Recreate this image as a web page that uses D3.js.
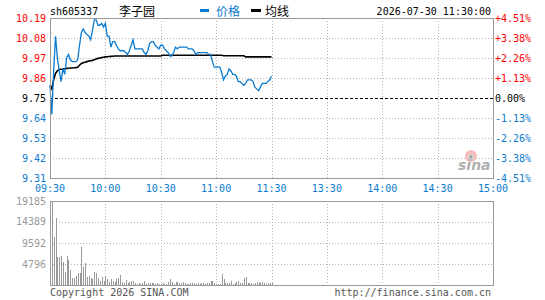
<!DOCTYPE html>
<html>
<head>
<meta charset="utf-8">
<script src="https://cdn.jsdelivr.net/npm/d3@7"></script>
<style>
  html, body { margin: 0; padding: 0; background: #fff; }
  svg { display: block; }
  text { font-family: "DejaVu Sans Mono", "Liberation Mono", monospace; font-size: 10px; }
  .cjk { font-family: "Noto Sans CJK SC", sans-serif; font-size: 12px; }
</style>
</head>
<body>
<div id="chart"></div>
<script>
// time axis (minutes since 09:30, lunch break folded out)
const timeTicks = [0, 30, 60, 90, 120, 150, 180, 210, 240];
const timeLabels = ["09:30", "10:00", "10:30", "11:00", "11:30", "13:30", "14:00", "14:30", "15:00"];

// price axis
const prevClose = 9.75;
const priceTicks = [10.19, 10.08, 9.97, 9.86, 9.75, 9.64, 9.53, 9.42, 9.31];
const pctLabels = ["+4.51%", "+3.38%", "+2.26%", "+1.13%", "0.00%", "-1.13%", "-2.26%", "-3.38%", "-4.51%"];

// volume axis
const volTicks = [19185, 14389, 9592, 4796];

// minute price, 09:30 .. 11:30
const price = [
  9.82, 9.66, 9.90, 10.09, 9.97, 9.90, 9.84, 9.91, 9.88, 9.97,
  9.99, 9.96, 9.95, 9.95, 9.95, 9.96, 10.04, 10.11, 10.13, 10.11,
  10.10, 10.09, 10.07, 10.12, 10.18, 10.18, 10.15, 10.15, 10.16, 10.14,
  10.16, 10.09, 10.09, 10.03, 10.06, 10.06, 10.04, 10.02, 10.01, 10.01,
  10.01, 10.00, 9.99, 10.01, 10.04, 10.07, 10.02, 10.02, 10.02, 10.02,
  10.02, 10.00, 9.99, 10.01, 10.05, 10.06, 10.06, 10.04, 10.03, 10.02,
  10.04, 10.04, 10.02, 10.01, 10.00, 9.98, 9.98, 10.00, 10.03, 10.02,
  10.03, 10.03, 10.03, 10.03, 10.03, 10.02, 10.02, 10.02, 10.01, 9.99,
  10.00, 10.00, 10.00, 10.00, 10.00, 10.00, 9.99, 9.99, 9.95, 9.92,
  9.92, 9.92, 9.92, 9.89, 9.85, 9.87, 9.88, 9.91, 9.90, 9.88,
  9.88, 9.87, 9.84, 9.84, 9.83, 9.82, 9.83, 9.85, 9.85, 9.85,
  9.84, 9.81, 9.80, 9.79, 9.81, 9.83, 9.83, 9.83, 9.84, 9.85,
  9.87
];

// running average price
const avgPrice = [
  9.82, 9.80, 9.85, 9.885, 9.90, 9.907, 9.908, 9.909, 9.911, 9.913,
  9.914, 9.915, 9.915, 9.916, 9.917, 9.919, 9.93, 9.94, 9.944, 9.947,
  9.95, 9.953, 9.955, 9.957, 9.96, 9.965, 9.968, 9.97, 9.972, 9.974,
  9.976, 9.977, 9.978, 9.979, 9.98, 9.981, 9.981, 9.981, 9.981, 9.981,
  9.981, 9.981, 9.981, 9.981, 9.981, 9.981, 9.981, 9.981, 9.981, 9.981,
  9.981, 9.981, 9.981, 9.981, 9.981, 9.981, 9.981, 9.981, 9.981, 9.981,
  9.981, 9.985, 9.985, 9.985, 9.985, 9.985, 9.985, 9.985, 9.985, 9.985,
  9.985, 9.985, 9.985, 9.985, 9.985, 9.985, 9.985, 9.985, 9.985, 9.985,
  9.985, 9.985, 9.985, 9.985, 9.985, 9.985, 9.985, 9.985, 9.985, 9.985,
  9.985, 9.985, 9.985, 9.985, 9.982, 9.982, 9.982, 9.982, 9.982, 9.982,
  9.982, 9.982, 9.982, 9.982, 9.982, 9.982, 9.976, 9.976, 9.976, 9.976,
  9.976, 9.976, 9.976, 9.976, 9.976, 9.976, 9.976, 9.976, 9.976, 9.976,
  9.976
];

// minute volume
const volume = [
  5180, 19185, 11040, 15380, 6470, 6470, 6700, 5180, 2890, 6700,
  5710, 3430, 1675, 1675, 2130, 2660, 2660, 8750, 4190, 4950,
  1900, 2130, 1675, 1290, 2890, 2660, 1520, 910, 1900, 910,
  2130, 1290, 760, 1370, 910, 760, 1290, 1675, 2280, 760,
  530, 1140, 530, 760, 910, 910, 530, 300, 380, 300,
  380, 910, 300, 530, 380, 530, 380, 300, 380, 230,
  300, 460, 300, 300, 760, 1290, 685, 300, 685, 685,
  460, 460, 685, 460, 300, 230, 460, 460, 460, 300,
  460, 300, 460, 460, 300, 460, 460, 910, 910, 460,
  300, 230, 300, 2510, 1370, 460, 460, 460, 910, 300,
  460, 685, 910, 460, 460, 1600, 1830, 460, 460, 460,
  300, 460, 685, 685, 460, 685, 460, 300, 460, 460,
  460
];

const W = 545, H = 300;
const plot = { left: 50, right: 493, top: 18, bottom: 178 };
const vplot = { top: 201, bottom: 285 };

const BLUE = "#0a7bd0";
const RED = "#ff0000";
const GRAY = "#999999";
const GRID = "#b4b4b4";

const svg = d3.select("#chart").append("svg")
    .attr("width", W)
    .attr("height", H);

const x = d3.scaleLinear().domain([0, 240]).range([plot.left, plot.right]);
const y = d3.scaleLinear().domain([9.31, 10.19]).range([plot.bottom, plot.top]);
const yv = d3.scaleLinear().domain([0, 19185]).range([vplot.bottom, vplot.top]);

// ---- main panel grid
const grid = svg.append("g").attr("shape-rendering", "crispEdges");
grid.selectAll(".hg")
    .data(priceTicks.filter(d => d !== prevClose && d !== 10.19 && d !== 9.31))
    .enter().append("line")
    .attr("x1", plot.left).attr("x2", plot.right)
    .attr("y1", d => Math.round(y(d)) + 0.5).attr("y2", d => Math.round(y(d)) + 0.5)
    .attr("stroke", GRID).attr("stroke-dasharray", "1,2");
grid.selectAll(".vg")
    .data(timeTicks.slice(1, -1))
    .enter().append("line")
    .attr("x1", d => Math.round(x(d)) + 0.5).attr("x2", d => Math.round(x(d)) + 0.5)
    .attr("y1", plot.top).attr("y2", plot.bottom)
    .attr("stroke", GRID).attr("stroke-dasharray", "1,2");

// volume panel grid
grid.selectAll(".hvg")
    .data(volTicks.slice(1))
    .enter().append("line")
    .attr("x1", plot.left).attr("x2", plot.right)
    .attr("y1", d => Math.round(yv(d)) + 0.5).attr("y2", d => Math.round(yv(d)) + 0.5)
    .attr("stroke", GRID).attr("stroke-dasharray", "1,2");
grid.selectAll(".vvg")
    .data(timeTicks.slice(1, -1))
    .enter().append("line")
    .attr("x1", d => Math.round(x(d)) + 0.5).attr("x2", d => Math.round(x(d)) + 0.5)
    .attr("y1", vplot.top).attr("y2", vplot.bottom)
    .attr("stroke", GRID).attr("stroke-dasharray", "1,2");

// previous close dashed line
svg.append("line")
    .attr("x1", plot.left).attr("x2", plot.right)
    .attr("y1", Math.round(y(prevClose)) + 0.5).attr("y2", Math.round(y(prevClose)) + 0.5)
    .attr("stroke", "#000").attr("stroke-dasharray", "3,2")
    .attr("shape-rendering", "crispEdges");

// ---- sina watermark
const logo = svg.append("g").attr("transform", "translate(456,150)");
logo.append("circle").attr("cx", 15).attr("cy", 6).attr("r", 6).attr("fill", "#f7bcbc");
logo.append("circle").attr("cx", 15).attr("cy", 7).attr("r", 3).attr("fill", "#d4d4d4");
logo.append("circle").attr("cx", 15).attr("cy", 7).attr("r", 1.4).attr("fill", "#999");
logo.append("text")
    .attr("x", 2).attr("y", 20)
    .style("font-family", "DejaVu Sans, sans-serif")
    .style("font-size", "14px")
    .style("font-style", "italic")
    .style("font-weight", "bold")
    .attr("fill", "#b0b0b0")
    .text("sina");

// ---- volume bars
svg.append("g")
    .attr("shape-rendering", "crispEdges")
    .selectAll("rect")
    .data(volume)
    .enter().append("rect")
    .attr("x", (d, i) => Math.round(x(i)))
    .attr("y", d => yv(d))
    .attr("width", 1)
    .attr("height", d => vplot.bottom - yv(d))
    .attr("fill", GRAY);

// ---- price + average lines
const line = d3.line()
    .x((d, i) => x(i))
    .y(d => y(d));

svg.append("path")
    .datum(avgPrice)
    .attr("d", line)
    .attr("fill", "none")
    .attr("stroke", "#000")
    .attr("stroke-width", 1.6);

svg.append("path")
    .datum(price)
    .attr("d", line)
    .attr("fill", "none")
    .attr("stroke", BLUE)
    .attr("stroke-width", 1.3);

// ---- frames
svg.append("rect")
    .attr("x", plot.left + 0.5).attr("y", plot.top + 0.5)
    .attr("width", plot.right - plot.left).attr("height", plot.bottom - plot.top)
    .attr("fill", "none").attr("stroke", GRAY)
    .attr("shape-rendering", "crispEdges");
svg.append("rect")
    .attr("x", plot.left + 0.5).attr("y", vplot.top + 0.5)
    .attr("width", plot.right - plot.left).attr("height", vplot.bottom - vplot.top)
    .attr("fill", "none").attr("stroke", GRAY)
    .attr("shape-rendering", "crispEdges");

// ---- axis labels
const colorFor = (d) => d > prevClose + 1e-9 ? RED : (d < prevClose - 1e-9 ? BLUE : "#000");

svg.append("g").selectAll("text")
    .data(priceTicks)
    .enter().append("text")
    .attr("x", 46)
    .attr("y", d => y(d))
    .attr("dy", "0.35em")
    .attr("text-anchor", "end")
    .attr("fill", colorFor)
    .text(d => d.toFixed(2));

svg.append("g").selectAll("text")
    .data(pctLabels)
    .enter().append("text")
    .attr("x", 495)
    .attr("y", (d, i) => y(priceTicks[i]))
    .attr("dy", "0.35em")
    .attr("fill", (d, i) => colorFor(priceTicks[i]))
    .text(d => d);

svg.append("g").selectAll("text")
    .data(timeTicks)
    .enter().append("text")
    .attr("x", d => x(d))
    .attr("y", 188)
    .attr("dy", "0.35em")
    .attr("text-anchor", "middle")
    .attr("fill", BLUE)
    .text((d, i) => timeLabels[i]);

svg.append("g").selectAll("text")
    .data(volTicks)
    .enter().append("text")
    .attr("x", 46)
    .attr("y", d => yv(d))
    .attr("dy", "0.35em")
    .attr("text-anchor", "end")
    .attr("fill", GRAY)
    .text(d => d);

// ---- header
svg.append("text").attr("x", 50).attr("y", 15).attr("fill", "#000").text("sh605337");
svg.append("text").attr("class", "cjk").attr("x", 119).attr("y", 15.5).attr("fill", "#000").text("李子园");

svg.append("rect").attr("x", 200).attr("y", 9).attr("width", 9).attr("height", 3).attr("fill", BLUE);
svg.append("text").attr("class", "cjk").attr("x", 216).attr("y", 15.5).attr("fill", BLUE).text("价格");
svg.append("rect").attr("x", 251).attr("y", 9).attr("width", 10).attr("height", 3).attr("fill", "#000");
svg.append("text").attr("class", "cjk").attr("x", 265).attr("y", 15.5).attr("fill", "#000").text("均线");

svg.append("text")
    .attr("x", 491).attr("y", 15)
    .attr("text-anchor", "end")
    .attr("fill", "#000")
    .text("2026-07-30 11:30:00");

// ---- footer
svg.append("text").attr("x", 50).attr("y", 296).attr("fill", "#555").text("Copyright 2026 SINA.COM");
svg.append("text").attr("x", 491).attr("y", 296).attr("text-anchor", "end").attr("fill", "#555")
    .text("http://finance.sina.com.cn");
</script>
</body>
</html>
